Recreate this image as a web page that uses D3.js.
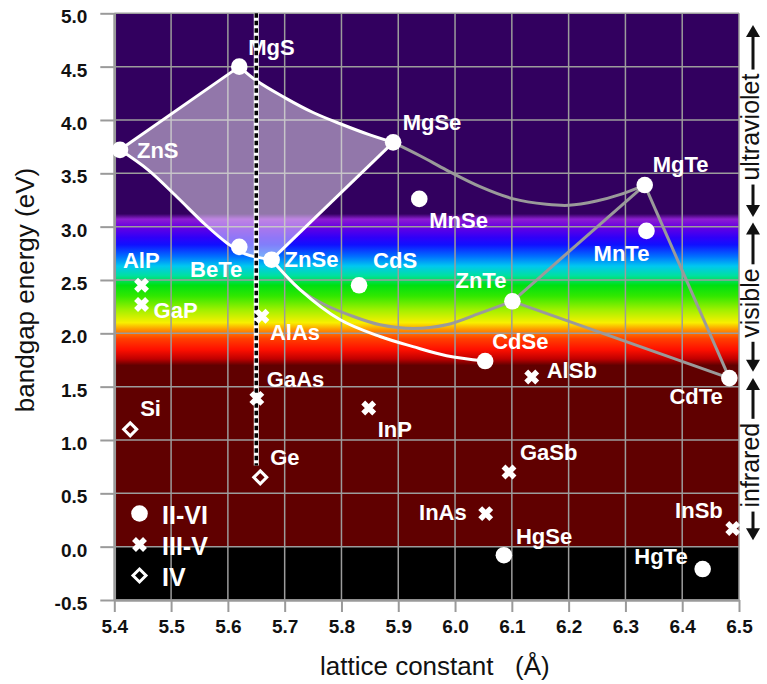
<!DOCTYPE html>
<html>
<head>
<meta charset="utf-8">
<script src="https://cdn.jsdelivr.net/npm/d3@7"></script>
<style>
  html, body { margin: 0; padding: 0; background: #fff; }
  svg { display: block; font-family: "Liberation Sans", Arial, Helvetica, sans-serif; }
</style>
</head>
<body>
<svg id="chart" width="767" height="684"></svg>
<script>
// ---- Compound semiconductors: lattice constant (Å) vs. band gap (eV) ----
const iiviNames   = ["ZnS", "MgS", "MgSe", "MnSe", "MgTe", "MnTe", "BeTe", "ZnSe", "CdS", "ZnTe", "CdSe", "CdTe", "HgSe", "HgTe"];
const iiviLattice = [5.41, 5.62, 5.891, 5.937, 6.334, 6.337, 5.62, 5.677, 5.831, 6.101, 6.053, 6.483, 6.086, 6.436];
const iiviGap     = [3.72, 4.50, 3.79, 3.26, 3.39, 2.96, 2.81, 2.69, 2.45, 2.30, 1.74, 1.58, -0.08, -0.21];

const iiivNames   = ["AlP", "GaP", "AlAs", "GaAs", "InP", "AlSb", "GaSb", "InAs", "InSb"];
const iiivLattice = [5.448, 5.448, 5.66, 5.651, 5.848, 6.135, 6.095, 6.054, 6.489];
const iiivGap     = [2.45, 2.27, 2.16, 1.39, 1.30, 1.59, 0.70, 0.31, 0.17];

const ivNames     = ["Si", "Ge"];
const ivLattice   = [5.428, 5.657];
const ivGap       = [1.10, 0.65];

// Alloy bowing curves [lattice, gap]
const edgeZnSMgS   = [[5.41, 3.72], [5.62, 4.50]];
const edgeMgSMgSe  = [[5.62, 4.50], [5.65, 4.37], [5.70, 4.21], [5.75, 4.07], [5.80, 3.96], [5.85, 3.86], [5.891, 3.79]];
const edgeMgSeZnSe = [[5.891, 3.79], [5.677, 2.69]];
const edgeZnSeZnS  = [[5.677, 2.69], [5.63, 2.745], [5.60, 2.84], [5.56, 3.02], [5.51, 3.28], [5.46, 3.53], [5.41, 3.72]];
const curveZnSeCdSe = [[5.677, 2.69], [5.727, 2.41], [5.797, 2.13], [5.868, 1.97], [5.926, 1.875], [5.985, 1.79], [6.053, 1.74]];
const curveZnSeZnTe = [[5.677, 2.69], [5.727, 2.41], [5.77, 2.27], [5.82, 2.16], [5.868, 2.08], [5.927, 2.045], [5.985, 2.08], [6.044, 2.19], [6.101, 2.30]];
const curveMgSeMgTe = [[5.891, 3.79], [5.94, 3.66], [5.985, 3.53], [6.044, 3.375], [6.103, 3.26], [6.161, 3.21], [6.20, 3.20], [6.249, 3.24], [6.29, 3.30], [6.334, 3.39]];
const segMgTeZnTe = [[6.334, 3.39], [6.101, 2.30]];
const segMgTeCdTe = [[6.334, 3.39], [6.483, 1.58]];
const segZnTeCdTe = [[6.101, 2.30], [6.483, 1.58]];

// Vertical guide at the GaAs / Ge lattice constant
const guideLine = [[5.65, 5.0], [5.65, 0.76]];

// Axis ticks
const xTicks = [5.4, 5.5, 5.6, 5.7, 5.8, 5.9, 6.0, 6.1, 6.2, 6.3, 6.4, 6.5];
const xTickLabels = ["5.4", "5.5", "5.6", "5.7", "5.8", "5.9", "6.0", "6.1", "6.2", "6.3", "6.4", "6.5"];
const yTicks = [-0.5, 0.0, 0.5, 1.0, 1.5, 2.0, 2.5, 3.0, 3.5, 4.0, 4.5, 5.0];
const yTickLabels = ["-0.5", "0.0", "0.5", "1.0", "1.5", "2.0", "2.5", "3.0", "3.5", "4.0", "4.5", "5.0"];

// Spectral regions on the right-hand side (eV)
const bandNames = ["infrared", "visible", "ultraviolet"];
const bandLow   = [0.06, 1.64, 3.09];
const bandHigh  = [1.58, 3.04, 4.89];

const legendNames = ["II-VI", "III-V", "IV"];

// Background colour along the energy axis [eV, colour]
const spectrumStops = [
  [5.00, "#32005f"], [3.12, "#32005f"], [3.07, "#8c1ed0"], [3.00, "#6a00e0"],
  [2.90, "#3000f8"], [2.83, "#1010ff"], [2.72, "#0070ff"], [2.63, "#00c8f0"],
  [2.54, "#00e0a0"], [2.45, "#00e010"], [2.35, "#30e800"], [2.22, "#a0f000"],
  [2.10, "#f8f000"], [2.03, "#ff9000"], [1.95, "#ff4000"], [1.85, "#ff1000"],
  [1.76, "#c00000"], [1.70, "#600000"], [0.00, "#600000"], [0.00, "#000000"],
  [-0.50, "#000000"]
];

// Label placement per compound: [anchor, dx, dy] in px from the marker
const labelPlace = {
  ZnS: ["start", 17, 8], MgS: ["start", 9, -12], MgSe: ["start", 9.5, -12], MnSe: ["start", 10, 29],
  MgTe: ["start", 8, -13], MnTe: ["end", 3, 30], BeTe: ["end", 3, 30], ZnSe: ["start", 13, 7],
  CdS: ["start", 14, -17], ZnTe: ["end", -6, -13], CdSe: ["start", 7, -12], CdTe: ["end", -6.5, 26],
  HgSe: ["start", 12, -11], HgTe: ["end", -15, -5],
  AlP: ["start", -18.6, -17.7], GaP: ["start", 12, 13], AlAs: ["start", 8, 24], GaAs: ["start", 10, -11],
  InP: ["start", 9, 29], AlSb: ["start", 15, 1], GaSb: ["start", 11, -12], InAs: ["end", -19, 6],
  InSb: ["end", -10, -11], Si: ["start", 10, -13], Ge: ["start", 10, -12]
};

// ---- Scales ----
const svg = d3.select("#chart");
const x = d3.scaleLinear().domain([5.4, 6.5]).range([114.3, 739]);
const y = d3.scaleLinear().domain([-0.5, 5.0]).range([600, 13.3]);
const x0 = x(5.4), x1 = x(6.5), yTop = y(5.0), yBot = y(-0.5);

// ---- Spectrum background ----
const grad = svg.append("defs").append("linearGradient")
  .attr("id", "spectrum").attr("gradientUnits", "userSpaceOnUse")
  .attr("x1", 0).attr("x2", 0).attr("y1", yTop).attr("y2", yBot);
grad.selectAll("stop").data(spectrumStops).join("stop")
  .attr("offset", d => (y(d[0]) - yTop) / (yBot - yTop))
  .attr("stop-color", d => d[1]);
svg.append("rect").attr("x", x0).attr("y", yTop)
  .attr("width", x1 - x0).attr("height", yBot - yTop).attr("fill", "url(#spectrum)");

// ---- Grid ----
const grid = svg.append("g").attr("stroke", "#9c9c9c").attr("stroke-width", 1.5);
grid.selectAll(".gx").data(xTicks).join("line")
  .attr("x1", d => x(d)).attr("x2", d => x(d)).attr("y1", yTop).attr("y2", yBot);
grid.selectAll(".gy").data(yTicks).join("line")
  .attr("x1", x0).attr("x2", x1).attr("y1", d => y(d)).attr("y2", d => y(d));

// ---- Axes ----
const axL = svg.append("g").attr("transform", `translate(${x0},0)`)
  .call(d3.axisLeft(y).tickValues(yTicks).tickSize(14).tickSizeOuter(0).tickPadding(13)
    .tickFormat((d, i) => yTickLabels[i]));
const axB = svg.append("g").attr("transform", `translate(0,${yBot})`)
  .call(d3.axisBottom(x).tickValues(xTicks).tickSize(12).tickSizeOuter(0).tickPadding(8)
    .tickFormat((d, i) => xTickLabels[i]));
[axL, axB].forEach(a => {
  a.select(".domain").attr("stroke", "#9a9a9a").attr("stroke-width", 2.5);
  a.selectAll(".tick line").attr("stroke", "#9a9a9a").attr("stroke-width", 2);
  a.selectAll(".tick text").attr("fill", "#111").attr("font-size", 19).attr("font-weight", "bold")
    .attr("font-family", "'Liberation Sans', Arial, sans-serif");
});
axL.selectAll(".tick text").attr("dy", "0.5em");

// ---- Alloy region and bowing curves ----
const line = d3.line().x(d => x(d[0])).y(d => y(d[1])).curve(d3.curveCatmullRom.alpha(0.5));
const straight = d3.line().x(d => x(d[0])).y(d => y(d[1]));

const regionPath = [edgeZnSMgS, edgeMgSMgSe, edgeMgSeZnSe, edgeZnSeZnS]
  .map((pts, i) => (pts.length > 2 ? line(pts) : straight(pts)).replace(/^M/, i ? "L" : "M"))
  .join("") + "Z";
svg.append("path").attr("d", regionPath).attr("fill", "#f2eef6").attr("fill-opacity", 0.5)
  .attr("stroke", "none");

const grayCurves = [curveZnSeZnTe, curveMgSeMgTe];
const graySegs = [segMgTeZnTe, segMgTeCdTe, segZnTeCdTe];
svg.append("g").attr("fill", "none").attr("stroke", "#9a9a9a").attr("stroke-width", 3)
  .call(g => g.selectAll(".c").data(grayCurves).join("path").attr("d", line))
  .call(g => g.selectAll(".s").data(graySegs).join("path").attr("d", straight));

svg.append("g").attr("fill", "none").attr("stroke", "#fff").attr("stroke-width", 3)
  .selectAll("path").data([edgeZnSMgS, edgeMgSMgSe, edgeMgSeZnSe, edgeZnSeZnS, curveZnSeCdSe]).join("path")
  .attr("d", d => d.length > 2 ? line(d) : straight(d));

// ---- Compound records ----
const compounds = [
  ...iiviNames.map((n, i) => ({ name: n, group: "II-VI", a: iiviLattice[i], eg: iiviGap[i] })),
  ...iiivNames.map((n, i) => ({ name: n, group: "III-V", a: iiivLattice[i], eg: iiivGap[i] })),
  ...ivNames.map((n, i) => ({ name: n, group: "IV", a: ivLattice[i], eg: ivGap[i] }))
];

// ---- Labels ----
svg.append("g").attr("fill", "#fff").attr("font-size", 22).attr("font-weight", "bold")
  .selectAll("text").data(compounds).join("text")
  .attr("x", d => x(d.a) + labelPlace[d.name][1])
  .attr("y", d => y(d.eg) + labelPlace[d.name][2])
  .attr("text-anchor", d => labelPlace[d.name][0])
  .text(d => d.name);

// ---- Dashed lattice-match guide ----
svg.append("path").attr("d", straight(guideLine)).attr("stroke", "#fff").attr("stroke-width", 5);
svg.append("path").attr("d", straight(guideLine)).attr("stroke", "#000").attr("stroke-width", 3.5)
  .attr("stroke-dasharray", "4.5 3");

// ---- Markers ----
function drawMarker(sel, group) {
  if (group === "II-VI") {
    sel.append("circle").attr("r", 8.3).attr("fill", "#fff");
  } else if (group === "III-V") {
    sel.append("path").attr("d", "M-5.5,-5.5L5.5,5.5M-5.5,5.5L5.5,-5.5")
      .attr("stroke", "#fff").attr("stroke-width", 5.5).attr("fill", "none");
  } else {
    sel.append("path").attr("d", "M0,-6.5L6.5,0L0,6.5L-6.5,0Z")
      .attr("stroke", "#fff").attr("stroke-width", 3).attr("fill", "none");
  }
}
svg.append("g").selectAll("g").data(compounds).join("g")
  .attr("transform", d => `translate(${x(d.a)},${y(d.eg)})`)
  .each(function (d) { drawMarker(d3.select(this), d.group); });

// ---- Legend ----
const leg = svg.append("g").selectAll("g").data(legendNames).join("g")
  .attr("transform", (d, i) => `translate(139.5,${513.5 + i * 31})`);
leg.each(function (d) { drawMarker(d3.select(this), d); });
leg.append("text").attr("x", 22.5).attr("y", 10.5).attr("fill", "#fff")
  .attr("font-size", 25).attr("font-weight", "bold").text(d => d);

// ---- Spectral region annotation ----
const ann = svg.append("g");
const arrowX = 753;
bandNames.forEach((name, i) => {
  const yLo = y(bandLow[i]), yHi = y(bandHigh[i]);
  const yc = (yLo + yHi) / 2 + 6;
  const t = ann.append("text")
    .attr("transform", `translate(759,${yc}) rotate(-90)`)
    .attr("text-anchor", "middle").attr("font-size", 25).attr("fill", "#111").text(name);
  const half = t.node().getComputedTextLength() / 2;
  const gap = 4, head = 12, hw = 7;
  // upward arrow
  ann.append("line").attr("x1", arrowX).attr("x2", arrowX)
    .attr("y1", yc - half - gap).attr("y2", yHi + head - 1)
    .attr("stroke", "#111").attr("stroke-width", 3);
  ann.append("path").attr("fill", "#111")
    .attr("d", `M${arrowX},${yHi}L${arrowX + hw},${yHi + head}L${arrowX - hw},${yHi + head}Z`);
  // downward arrow
  ann.append("line").attr("x1", arrowX).attr("x2", arrowX)
    .attr("y1", yc + half + gap).attr("y2", yLo - head + 1)
    .attr("stroke", "#111").attr("stroke-width", 3);
  ann.append("path").attr("fill", "#111")
    .attr("d", `M${arrowX},${yLo}L${arrowX + hw},${yLo - head}L${arrowX - hw},${yLo - head}Z`);
});

// ---- Axis titles ----
svg.append("text").attr("transform", "translate(34,290) rotate(-90)")
  .attr("text-anchor", "middle").attr("font-size", 26).attr("fill", "#111")
  .text("bandgap energy (eV)");
svg.append("text").attr("x", 320).attr("y", 675).attr("font-size", 26).attr("fill", "#111")
  .style("white-space", "pre").text("lattice constant   (Å)");
</script>
</body>
</html>
